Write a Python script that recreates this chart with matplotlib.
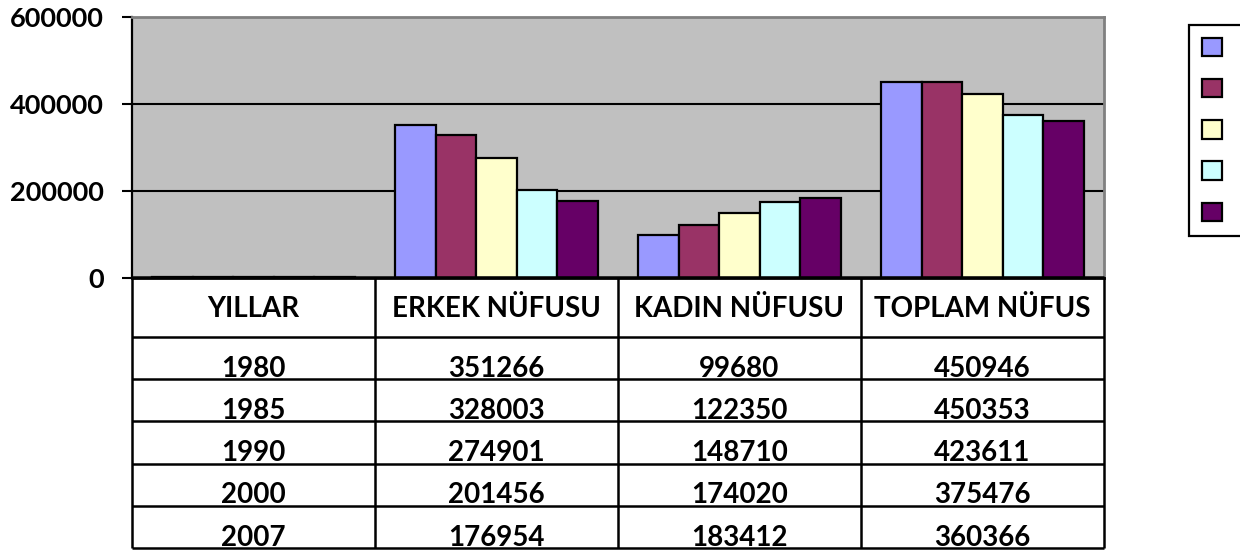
import numpy as np
import matplotlib
matplotlib.use('Agg')
import matplotlib.pyplot as plt

plt.rcParams['font.family'] = ['Lato', 'DejaVu Sans']
plt.rcParams['font.weight'] = 'bold'

categories = ['YILLAR', 'ERKEK NÜFUSU', 'KADIN NÜFUSU', 'TOPLAM NÜFUS']
years = [1980, 1985, 1990, 2000, 2007]
erkek = [351266, 328003, 274901, 201456, 176954]
kadin = [99680, 122350, 148710, 174020, 183412]
toplam = [450946, 450353, 423611, 375476, 360366]
colors = ['#9999FF', '#993366', '#FFFFCC', '#CCFFFF', '#660066']
yticks = [0, 200000, 400000, 600000]

W, H = 1240, 552
def box(l, t, r, b):
    return [l / W, 1 - b / H, (r - l) / W, (b - t) / H]

fig = plt.figure(figsize=(W / 100, H / 100), dpi=100)
ax = fig.add_axes(box(132, 17, 1104, 278))
ax.set_facecolor('#C0C0C0')

# each year is one series, values per category
rows = [[y, e, k, t] for y, e, k, t in zip(years, erkek, kadin, toplam)]
n = len(rows)
w = 1 / (n + 1)
xc = np.arange(len(categories)) + 0.5
handles = []
for i, vals in enumerate(rows):
    b = ax.bar(xc + (i - (n - 1) / 2) * w, vals, w, color=colors[i],
               edgecolor='black', linewidth=1.6, zorder=3)
    handles.append(b)

ax.set_xlim(0, len(categories))
ax.set_ylim(0, 600000)
ax.set_yticks(yticks)
ax.set_yticklabels([str(v) for v in yticks], fontsize=19.5, fontweight='bold')
ax.tick_params(axis='y', direction='out', length=7, width=1.5, pad=13)
ax.set_xticks([])
for v in yticks[1:-1]:
    ax.axhline(v, color='black', lw=1.5, zorder=1)
for s in ['top', 'right']:
    ax.spines[s].set_color('#808080')
    ax.spines[s].set_linewidth(2)
ax.spines['left'].set_linewidth(1.6)
ax.spines['bottom'].set_linewidth(2)

# data table under the plot
top, bottom = 277, 548
head_h = 60
row_h = (bottom - top - head_h) / n
tab = fig.add_axes(box(132, top, 1104, bottom))
tab.set_xlim(0, len(categories))
tab.set_ylim(bottom - top, 0)
tab.axis('off')
ys = [0, head_h] + [head_h + row_h * (j + 1) for j in range(n)]
tab.hlines(ys, 0, len(categories), color='black', lw=1.8, clip_on=False)
tab.vlines(np.arange(len(categories) + 1), 0, bottom - top, color='black', lw=1.8, clip_on=False)
for c, name in enumerate(categories):
    tab.text(c + 0.5, head_h - 20, name, ha='center', va='baseline',
             fontsize=20, fontweight='bold')
    for j, vals in enumerate(rows):
        tab.text(c + 0.5, ys[j + 2] - 2.5, str(vals[c]), ha='center', va='baseline',
                 fontsize=20, fontweight='bold')

leg = fig.legend(handles, [''] * n, loc='upper left',
                 bbox_to_anchor=(1189 / W, 1 - 25 / H), borderaxespad=0,
                 fontsize=15, handlelength=1, handleheight=1, labelspacing=1.0,
                 borderpad=0.6, handletextpad=0.4, fancybox=False, framealpha=1)
leg.get_frame().set_edgecolor('black')
leg.get_frame().set_linewidth(1.6)

plt.savefig('out.png', dpi=100)
